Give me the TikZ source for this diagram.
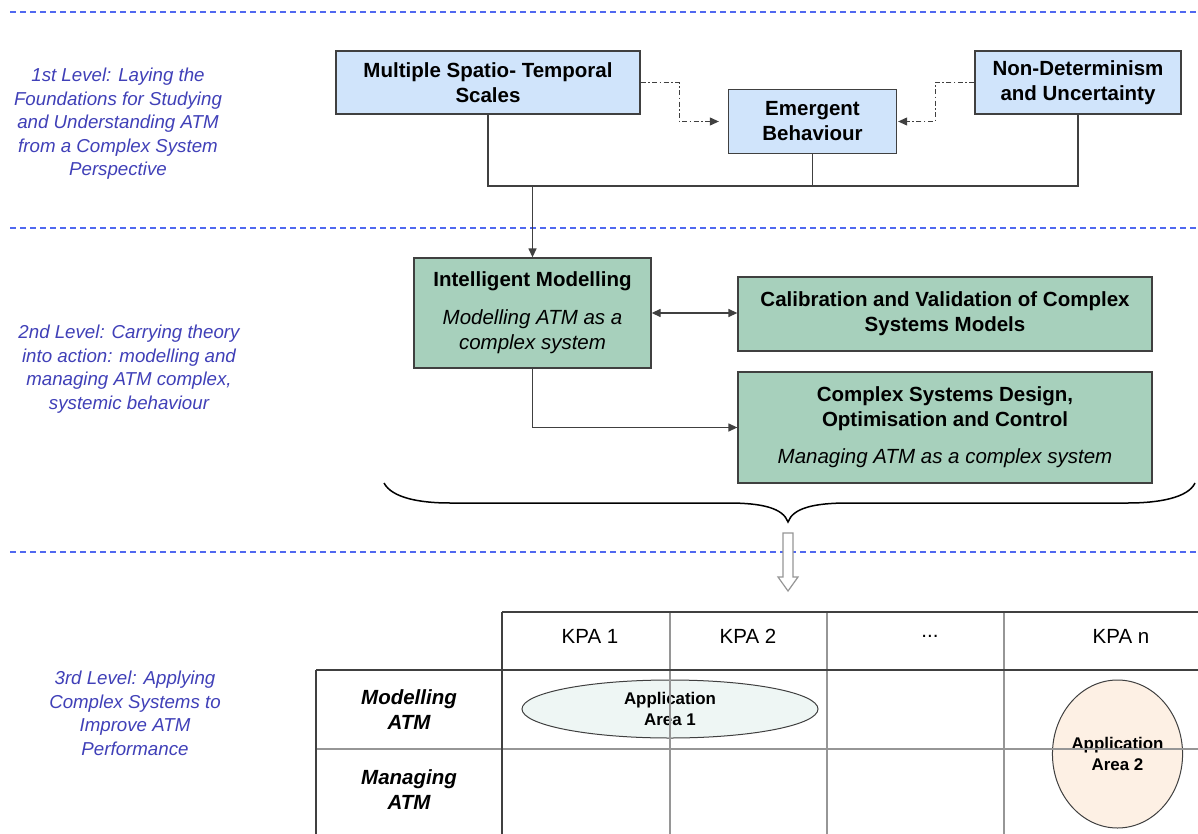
\documentclass[tikz,border=0pt]{standalone}
\usepackage{fontspec}
\setmainfont{Liberation Sans}
\usetikzlibrary{arrows.meta,shapes.geometric}
\definecolor{bluebox}{RGB}{208,228,251}
\definecolor{greenbox}{RGB}{167,208,188}
\definecolor{edgegray}{RGB}{64,64,64}
\definecolor{levelblue}{RGB}{64,64,184}
\definecolor{sepblue}{RGB}{80,104,240}
\definecolor{ellA}{RGB}{238,246,244}
\definecolor{ellB}{RGB}{253,240,228}
\definecolor{gridgray}{RGB}{150,150,150}
\begin{document}
\begin{tikzpicture}[x=1pt,y=-1pt,
  boxtext/.style={font=\fontsize{20.5}{25}\selectfont},
  bluenode/.style={draw=edgegray, line width=1.3pt, fill=bluebox, align=center, inner sep=0pt, font=\fontsize{20.5}{25}\selectfont\bfseries},
  greennode/.style={draw=edgegray, line width=1.3pt, fill=greenbox, align=center, inner sep=0pt, font=\fontsize{20.5}{25}\selectfont},
  leveltext/.style={align=center, text=levelblue, font=\fontsize{18.7}{23.5}\selectfont\itshape},
  sepline/.style={draw=sepblue, line width=1.3pt, dash pattern=on 6pt off 4pt},
  conn/.style={draw=edgegray, line width=1.3pt},
  dashdotline/.style={draw=edgegray, line width=1pt, dash pattern=on 5pt off 2.5pt on 1.5pt off 2.5pt},
  arrowtip/.style={-{Triangle[length=9pt,width=8pt]}},
  darkgrid/.style={draw=edgegray, line width=1.3pt},
  lightgrid/.style={draw=gridgray, line width=1.3pt},
  celltext/.style={font=\fontsize{20.5}{25}\selectfont, align=center},
  rowtext/.style={font=\fontsize{20.5}{25}\selectfont\bfseries\itshape, align=center},
  appnode/.style={ellipse, draw=edgegray, line width=1pt, inner sep=0pt, align=center, font=\fontsize{16.9}{21}\selectfont\bfseries}
]
\fill[white] (0,0) rectangle (1198,834);
\useasboundingbox (0,0) rectangle (1198,834);

% separators
\draw[sepline] (10,12) -- (1198,12);
\draw[sepline] (10,228) -- (1198,228);
\draw[sepline] (10,552) -- (1198,552);

% level texts
\node[leveltext] (lev1) at (118,124) {1st Level: Laying the\\Foundations for Studying\\and Understanding ATM\\from a Complex System\\Perspective};
\node[leveltext] (lev2) at (129,369) {2nd Level: Carrying theory\\into action: modelling and\\managing ATM complex,\\systemic behaviour};
\node[leveltext] (lev3) at (135,713.5) {3rd Level: Applying\\Complex Systems to\\Improve ATM\\Performance};

% level 1 boxes
\node[bluenode, minimum width=304pt, minimum height=63pt] (mst) at (488,82.5) {Multiple Spatio- Temporal\\Scales};
\node[bluenode, minimum width=168pt, minimum height=64pt] (emb) at (812.5,121.5) {Emergent\\Behaviour};
\node[bluenode, minimum width=206pt, minimum height=63pt] (nd) at (1078,82.5) {Non-Determinism\\and Uncertainty};

% level 2 boxes
\node[greennode, minimum width=237pt, minimum height=110pt] (im) at (532.5,313) {\textbf{Intelligent Modelling}\\[13pt]\textit{Modelling ATM as a}\\\textit{complex system}};
\node[greennode, minimum width=414pt, minimum height=74pt] (cal) at (945,314) {\textbf{Calibration and Validation of Complex}\\\textbf{Systems Models}};
\node[greennode, minimum width=414pt, minimum height=111pt] (csd) at (945,427.5) {\textbf{Complex Systems Design,}\\\textbf{Optimisation and Control}\\[12pt]\textit{Managing ATM as a complex system}};

% connectors level 1
\coordinate (jy) at (0,186);
\coordinate (dx1) at (679,0);
\coordinate (dx2) at (935,0);
\draw[conn] (mst.south) -- (mst.south |- jy) -- (nd.south |- jy) -- (nd.south);
\draw[conn] (emb.south) -- (emb.south |- jy);
\draw[conn, arrowtip] (im.north |- jy) -- (im.north);
\draw[dashdotline, arrowtip, shorten >=9pt] (mst.east) -- (mst.east -| dx1) |- (emb.west);
\draw[dashdotline, arrowtip, shorten >=1pt] (nd.west) -- (nd.west -| dx2) |- (emb.east);

% connectors level 2
\draw[conn, {Triangle[length=9pt,width=8pt]}-{Triangle[length=9pt,width=8pt]}] (im.east) -- (im.east -| cal.west);
\draw[conn, arrowtip] (im.south) |- (csd.west);

% brace
\draw[black, line width=1.5pt] (384,483) .. controls (392,498) and (420,503) .. (450,503) -- (728,503) .. controls (762,503) and (783,508) .. (788,522) .. controls (793,508) and (814,503) .. (848,503) -- (1128,503) .. controls (1158,503) and (1188,498) .. (1195,483);

% hollow arrow
\draw[draw=gridgray, fill=white, line width=1.2pt, line join=miter] (783,533) -- (793,533) -- (793,577) -- (798,577) -- (788,591) -- (778,577) -- (783,577) -- cycle;

% application areas
\node[appnode, fill=ellA, minimum width=296pt, minimum height=58pt] (app1) at (670,709) {Application\\Area 1};
\node[appnode, fill=ellB, minimum width=129pt, minimum height=148pt] (app2) at (1117.5,754) {Application\\Area 2};

% table grid
\draw[lightgrid] (316,749) -- (1198,749);
\draw[lightgrid] (670,612) -- (670,834);
\draw[lightgrid] (827,612) -- (827,834);
\draw[lightgrid] (1004,612) -- (1004,834);
\draw[darkgrid] (502,612) -- (1198,612);
\draw[darkgrid] (316,670) -- (1198,670);
\draw[darkgrid] (502,612) -- (502,834);
\draw[darkgrid] (316,670) -- (316,834);

% table texts
\node[celltext] (kpa1) at (590,636) {KPA 1};
\node[celltext] (kpa2) at (748,636) {KPA 2};
\node[celltext] (kpadots) at (930,636) {...};
\node[celltext] (kpan) at (1121,636) {KPA n};
\node[rowtext] (rowm) at (409,710) {Modelling\\ATM};
\node[rowtext] (rowg) at (409,790) {Managing\\ATM};
\end{tikzpicture}
\end{document}
